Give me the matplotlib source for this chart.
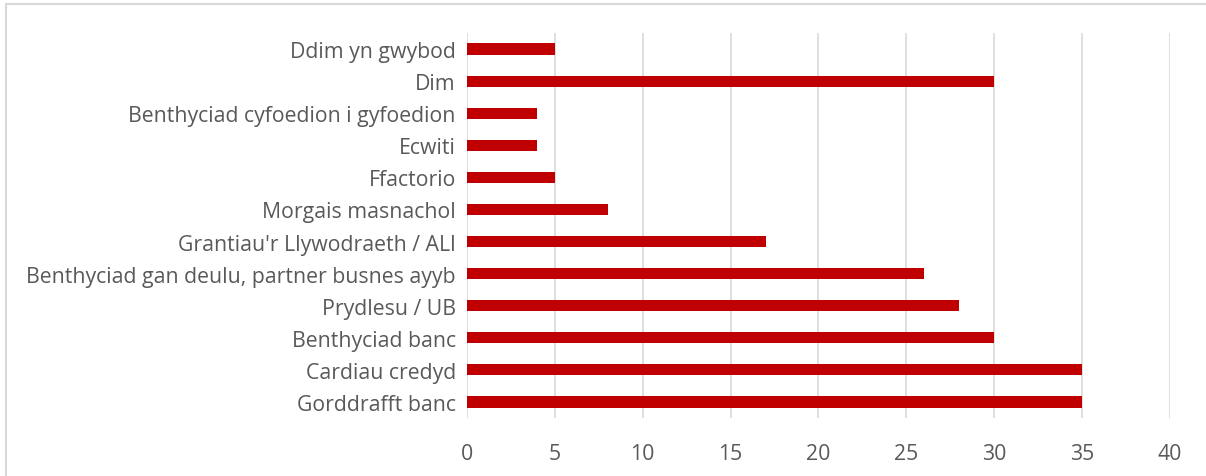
import matplotlib.pyplot as plt
from matplotlib.lines import Line2D

CATEGORIES = [
    "Ddim yn gwybod",
    "Dim",
    "Benthyciad cyfoedion i gyfoedion",
    "Ecwiti",
    "Ffactorio",
    "Morgais masnachol",
    "Grantiau'r Llywodraeth / ALl",
    "Benthyciad gan deulu, partner busnes ayyb",
    "Prydlesu / UB",
    "Benthyciad banc",
    "Cardiau credyd",
    "Gorddrafft banc",
]
VALUES = [5, 30, 4, 4, 5, 8, 17, 26, 28, 30, 35, 35]
X_TICKS = [0, 5, 10, 15, 20, 25, 30, 35, 40]

BAR_COLOR = "#C00000"
TEXT_COLOR = "#595959"
GRID_COLOR = "#D9D9D9"

plt.rcParams["font.family"] = ["Open Sans", "DejaVu Sans"]

fig = plt.figure(figsize=(12.06, 4.77), dpi=100)
ax = fig.add_axes([0.3872, 0.1216, 0.5829, 0.8071])

ypos = list(range(len(CATEGORIES)))
ax.barh(ypos, VALUES, height=0.35, color=BAR_COLOR, zorder=3)

ax.set_ylim(len(CATEGORIES) - 0.5, -0.5)
ax.set_xlim(0, 40)
ax.set_xticks(X_TICKS)
ax.set_yticks(ypos)
ax.set_yticklabels(CATEGORIES)

ax.grid(axis="x", color=GRID_COLOR, linewidth=1.2, zorder=0)
ax.grid(axis="y", visible=False)
for s in ax.spines.values():
    s.set_visible(False)
ax.tick_params(axis="both", length=0, labelsize=15.3, labelcolor=TEXT_COLOR)
ax.tick_params(axis="x", pad=18)
ax.tick_params(axis="y", pad=8)

# chart frame (top and left edge visible)
W, H = 1206, 477
fig.add_artist(Line2D([6 / W, 1], [1 - 5 / H, 1 - 5 / H], color="#D9D9D9", linewidth=1.5))
fig.add_artist(Line2D([6 / W, 6 / W], [0, 1 - 5 / H], color="#D9D9D9", linewidth=1.5))

fig.savefig("out.png", dpi=100)
